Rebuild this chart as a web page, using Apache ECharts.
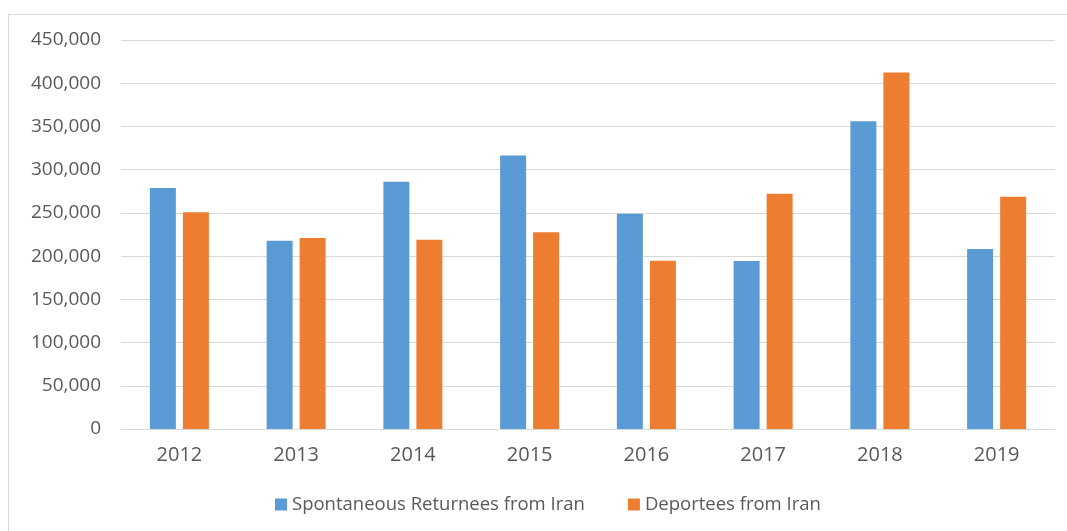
<!DOCTYPE html>
<html>
<head>
<meta charset="utf-8">
<script src="https://cdn.jsdelivr.net/npm/echarts@6/dist/echarts.min.js"></script>
<style>
  html, body { margin: 0; padding: 0; background: #fff; }
  #frame { position: absolute; left: 8px; top: 14px; width: 1100px; height: 560px; border: 1px solid #d9d9d9; box-sizing: border-box; }
  #chart { position: absolute; left: 0; top: 0; width: 1067px; height: 531px; }
</style>
</head>
<body>
<div id="frame"></div>
<div id="chart"></div>
<script>
// years on the x axis
const years = ['2012', '2013', '2014', '2015', '2016', '2017', '2018', '2019'];

// values
const spontaneous = [278800, 217800, 286100, 316500, 249100, 194400, 355900, 208200];
const deportees = [250600, 221000, 219000, 227500, 194700, 272200, 412500, 268700];

const seriesNames = ['Spontaneous Returnees from Iran', 'Deportees from Iran'];

const chart = echarts.init(document.getElementById('chart'));

const labelFont = '"Open Sans", "Noto Sans", sans-serif';

const option = {
  animation: false,
  grid: {
    left: 121,
    right: 12,
    top: 40,
    bottom: 102
  },
  legend: {
    bottom: 17,
    left: 275,
    padding: 0,
    itemWidth: 12,
    itemHeight: 12,
    itemGap: 43,
    icon: 'rect',
    textStyle: { color: '#595959', fontSize: 18.5, fontFamily: labelFont },
    data: seriesNames
  },
  xAxis: {
    type: 'category',
    data: years,
    axisLine: { lineStyle: { color: '#d9d9d9' } },
    axisTick: { show: false },
    axisLabel: { color: '#595959', fontSize: 20, fontFamily: labelFont, margin: 16 }
  },
  yAxis: {
    type: 'value',
    min: 0,
    max: 450000,
    interval: 50000,
    axisLine: { show: false },
    axisTick: { show: false },
    splitLine: { lineStyle: { color: '#d9d9d9', width: 1 } },
    axisLabel: {
      color: '#595959',
      fontSize: 19,
      fontFamily: labelFont,
      margin: 20,
      formatter: v => v.toLocaleString('en-US')
    }
  },
  series: [
    {
      name: seriesNames[0],
      type: 'bar',
      data: spontaneous,
      barWidth: 26,
      barGap: '27%',
      itemStyle: { color: '#5b9bd5' }
    },
    {
      name: seriesNames[1],
      type: 'bar',
      data: deportees,
      barWidth: 26,
      itemStyle: { color: '#ed7d31' }
    }
  ]
};

chart.setOption(option);
</script>
</body>
</html>
